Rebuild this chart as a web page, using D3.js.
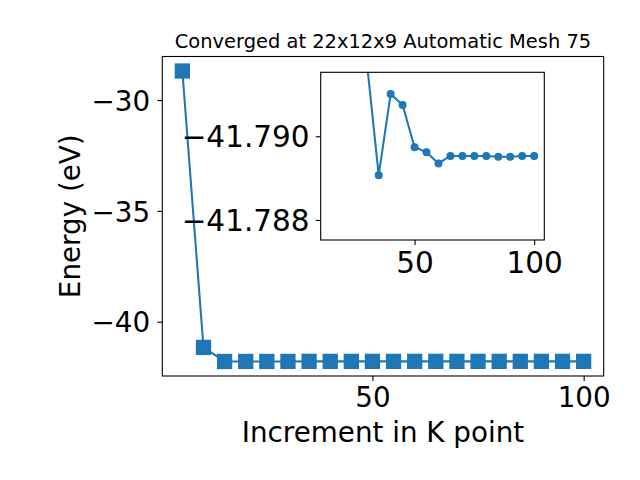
<!DOCTYPE html>
<html>
<head>
<meta charset="utf-8">
<script src="https://cdn.jsdelivr.net/npm/d3@7"></script>
<style>
  html, body { margin: 0; padding: 0; background: #fff; }
  svg { display: block; font-family: "DejaVu Sans", sans-serif; }
</style>
</head>
<body>
<svg id="chart" width="640" height="480"></svg>
<script>
// ---- data ----
const kPoints = [5, 10, 15, 20, 25, 30, 35, 40, 45, 50, 55, 60, 65, 70, 75, 80, 85, 90, 95, 100];
const energies = [-28.69, -41.16, -41.7945, -41.7930, -41.7925, -41.7918, -41.78907, -41.79101, -41.79075,
  -41.78974, -41.78962, -41.78935, -41.78953, -41.78953, -41.78953, -41.78953, -41.78951, -41.78951,
  -41.78953, -41.78953];
const mainXTicks = [50, 100];
const mainYTicks = [-30, -35, -40];
const insetXTicks = [50, 100];
const insetYTicks = [-41.790, -41.788];
const insetYLimits = [-41.79153, -41.78752]; // inverted axis: first value at top
const insetStartK = 15;
const titleText = "Converged at 22x12x9 Automatic Mesh 75";
const xLabel = "Increment in K point";
const yLabel = "Energy (eV)";

const color = "#1f77b4";
const svg = d3.select("#chart");
const pts = kPoints.map((k, i) => ({k, e: energies[i]}));

// ---- main axes ----
const M = {left: 162.3, right: 603.7, top: 56.5, bottom: 376};
const xMin = d3.min(kPoints), xMax = d3.max(kPoints);
const yMin = d3.min(energies), yMax = d3.max(energies);
const xPad = (xMax - xMin) * 0.05, yPad = (yMax - yMin) * 0.05;
const x = d3.scaleLinear().domain([xMin - xPad, xMax + xPad]).range([M.left, M.right]);
const y = d3.scaleLinear().domain([yMin - yPad, yMax + yPad]).range([M.bottom, M.top]);

const main = svg.append("g");
main.append("clipPath").attr("id", "mclip").append("rect")
  .attr("x", M.left).attr("y", M.top).attr("width", M.right - M.left).attr("height", M.bottom - M.top);

const plotG = main.append("g").attr("clip-path", "url(#mclip)");
plotG.append("path").datum(pts)
  .attr("fill", "none").attr("stroke", color).attr("stroke-width", 2.08)
  .attr("stroke-linejoin", "round")
  .attr("d", d3.line().x(d => x(d.k)).y(d => y(d.e)));
const sq = 13.9;
plotG.selectAll("rect.m").data(pts).enter().append("rect").attr("class", "m")
  .attr("x", d => x(d.k) - sq / 2).attr("y", d => y(d.e) - sq / 2)
  .attr("width", sq).attr("height", sq)
  .attr("fill", color).attr("stroke", color).attr("stroke-width", 1.39);

// main axes spines
main.append("rect").attr("x", M.left).attr("y", M.top)
  .attr("width", M.right - M.left).attr("height", M.bottom - M.top)
  .attr("fill", "none").attr("stroke", "#000").attr("stroke-width", 1.1);

const xAxis = main.append("g").attr("transform", `translate(0,${M.bottom})`)
  .call(d3.axisBottom(x).tickValues(mainXTicks).tickSize(4.9).tickPadding(4.9).tickFormat(d3.format("d")));
xAxis.select(".domain").remove();
xAxis.selectAll("line").attr("stroke-width", 1.1);
xAxis.selectAll("text").attr("font-size", "27.78px").attr("font-family", "DejaVu Sans")
  .attr("dy", null).attr("y", 31.3).attr("fill", "#000");

const yAxis = main.append("g").attr("transform", `translate(${M.left},0)`)
  .call(d3.axisLeft(y).tickValues(mainYTicks).tickSize(4.9).tickFormat(d => d3.format("d")(d).replace("-", "\u2212")));
yAxis.select(".domain").remove();
yAxis.selectAll("line").attr("stroke-width", 1.1);
yAxis.selectAll("text").attr("font-size", "27.78px").attr("font-family", "DejaVu Sans")
  .attr("dy", null).attr("x", -12.2).attr("y", 10.2).attr("fill", "#000");

// labels
svg.append("text").attr("x", (M.left + M.right) / 2).attr("y", 441.7)
  .attr("text-anchor", "middle").attr("font-size", "27.78px").text(xLabel);
svg.append("text").attr("transform", `translate(80,${(M.top + M.bottom) / 2}) rotate(-90)`)
  .attr("text-anchor", "middle").attr("font-size", "27.78px").text(yLabel);
svg.append("text").attr("x", (M.left + M.right) / 2).attr("y", 48.3)
  .attr("text-anchor", "middle").attr("font-size", "19.44px").text(titleText);

// ---- inset ----
const I = {left: 320.7, right: 544.3, top: 72.3, bottom: 240};
const ipts = pts.filter(d => d.k >= insetStartK);
const ixMin = d3.min(ipts, d => d.k), ixMax = d3.max(ipts, d => d.k);
const ixPad = (ixMax - ixMin) * 0.05;
const ix = d3.scaleLinear().domain([ixMin - ixPad, ixMax + ixPad]).range([I.left, I.right]);
const iy = d3.scaleLinear().domain(insetYLimits).range([I.top, I.bottom]);

const inset = svg.append("g");
inset.append("rect").attr("x", I.left).attr("y", I.top)
  .attr("width", I.right - I.left).attr("height", I.bottom - I.top).attr("fill", "#fff");
inset.append("clipPath").attr("id", "iclip").append("rect")
  .attr("x", I.left).attr("y", I.top).attr("width", I.right - I.left).attr("height", I.bottom - I.top);
const ig = inset.append("g").attr("clip-path", "url(#iclip)");
ig.append("path").datum(ipts)
  .attr("fill", "none").attr("stroke", color).attr("stroke-width", 2.08)
  .attr("stroke-linejoin", "round")
  .attr("d", d3.line().x(d => ix(d.k)).y(d => iy(d.e)));
ig.selectAll("circle").data(ipts).enter().append("circle")
  .attr("cx", d => ix(d.k)).attr("cy", d => iy(d.e)).attr("r", 3.4)
  .attr("fill", color).attr("stroke", color).attr("stroke-width", 1.2);

inset.append("rect").attr("x", I.left).attr("y", I.top)
  .attr("width", I.right - I.left).attr("height", I.bottom - I.top)
  .attr("fill", "none").attr("stroke", "#000").attr("stroke-width", 1.1);

const insetFont = "29.5px";
const ixAxis = inset.append("g").attr("transform", `translate(0,${I.bottom})`)
  .call(d3.axisBottom(ix).tickValues(insetXTicks).tickSize(4.9).tickFormat(d3.format("d")));
ixAxis.select(".domain").remove();
ixAxis.selectAll("line").attr("stroke-width", 1.1);
ixAxis.selectAll("text").attr("font-size", insetFont).attr("font-family", "DejaVu Sans")
  .attr("dy", null).attr("y", 33.3).attr("fill", "#000");

const iyAxis = inset.append("g").attr("transform", `translate(${I.left},0)`)
  .call(d3.axisLeft(iy).tickValues(insetYTicks).tickSize(4.9).tickFormat(d => d3.format(".3f")(d).replace("-", "\u2212")));
iyAxis.select(".domain").remove();
iyAxis.selectAll("line").attr("stroke-width", 1.1);
iyAxis.selectAll("text").attr("font-size", insetFont).attr("font-family", "DejaVu Sans")
  .attr("dy", null).attr("x", -11.1).attr("y", 10.7).attr("fill", "#000");
</script>
</body>
</html>
